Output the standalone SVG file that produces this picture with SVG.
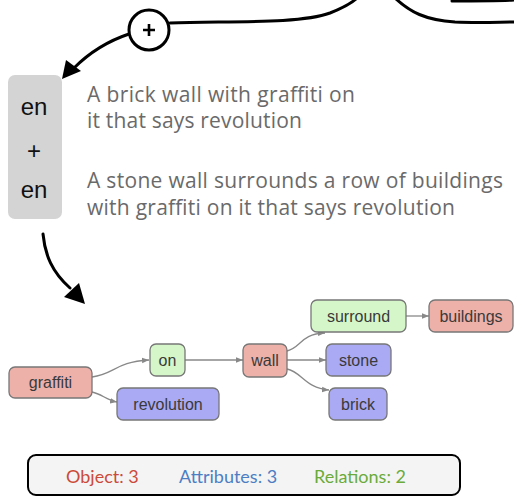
<svg xmlns="http://www.w3.org/2000/svg" width="514" height="497" viewBox="0 0 514 497">
<defs>
<style>
.thick{fill:none;stroke:#000;stroke-width:3;stroke-linecap:round}
.edge{fill:none;stroke:#888;stroke-width:1.3}
.node rect{stroke:#777;stroke-width:1.3}
.obj rect{fill:#eeb1aa}
.rel rect{fill:#d5f6c9}
.att rect{fill:#a9a9f4}
.node text{font-family:"Liberation Sans",Arial,sans-serif;font-size:16px;fill:#3a3a3a;text-anchor:middle}
.cap{font-family:"Open Sans","Liberation Sans",sans-serif;font-size:21px;fill:#6a6a6a}
.lang{font-family:"Liberation Sans",Arial,sans-serif;font-size:24px;fill:#111;text-anchor:middle}
.leg{font-family:"Lato","Open Sans",sans-serif;font-size:18px}
</style>
<marker id="ga" viewBox="0 0 10 10" refX="10" refY="5" markerWidth="7" markerHeight="7" markerUnits="userSpaceOnUse" orient="auto">
<path d="M0,1 L10,5 L0,9 z" fill="#888"/>
</marker>
</defs>

<g id="top-curves">
<path class="thick" d="M170,23 C230,21 300,24 330,13 C345,7 352,3 357,-2"/>
<path class="thick" d="M395,-2 C410,12 425,20 455,22 C480,23 500,22 516,22"/>
<path class="thick" d="M452,1 C480,1 500,1 516,0" stroke-width="2.5"/>
<path class="thick" d="M129,34 C105,42 88,54 74,68"/>
<path d="M62,79 L66,60 L81,71 z" fill="#000"/>
</g>

<g id="plus-circle">
<circle cx="149" cy="30" r="20" fill="#fff" stroke="#000" stroke-width="3"/>
<path d="M143,30 H155 M149,24 V36" stroke="#000" stroke-width="2.6" fill="none"/>
</g>

<g id="lang-box">
<rect x="8" y="75" width="54" height="144" rx="7" fill="#d4d4d4"/>
<text class="lang" x="34" y="115">en</text>
<text class="lang" x="34" y="159">+</text>
<text class="lang" x="34" y="198">en</text>
</g>

<g id="captions">
<text class="cap" x="87" y="102" textLength="268" lengthAdjust="spacing">A brick wall with graffiti on</text>
<text class="cap" x="87" y="128" textLength="215" lengthAdjust="spacing">it that says revolution</text>
<text class="cap" x="87" y="188" textLength="416" lengthAdjust="spacing">A stone wall surrounds a row of buildings</text>
<text class="cap" x="87" y="215" textLength="368" lengthAdjust="spacing">with graffiti on it that says revolution</text>
</g>

<g id="down-arrow">
<path class="thick" d="M43,234 C45,255 52,272 70,288" stroke-width="4"/>
<path d="M85,304 L64,297 L79,283 z" fill="#000"/>
</g>

<g id="connectors">
<path class="edge" d="M92,377 C115,374 115,362 149,360" marker-end="url(#ga)"/>
<path class="edge" d="M92,392 C102,394 106,400 117,402" marker-end="url(#ga)"/>
<path class="edge" d="M185,360 H243" marker-end="url(#ga)"/>
<path class="edge" d="M287,351 C302,347 300,334 325,333" marker-end="url(#ga)"/>
<path class="edge" d="M287,360 H326" marker-end="url(#ga)"/>
<path class="edge" d="M287,369 C302,372 305,388 329,390" marker-end="url(#ga)"/>
<path class="edge" d="M406,316 H429" marker-end="url(#ga)"/>
</g>

<g id="graffiti" class="node obj"><rect x="9" y="367" width="83" height="31" rx="6"/><text x="50.5" y="388">graffiti</text></g>
<g id="on" class="node rel"><rect x="150" y="344" width="35" height="32" rx="6"/><text x="167.5" y="366">on</text></g>
<g id="revolution" class="node att"><rect x="117" y="388" width="102" height="32" rx="6"/><text x="168" y="410">revolution</text></g>
<g id="wall" class="node obj"><rect x="243" y="344" width="44" height="33" rx="6"/><text x="265" y="366">wall</text></g>
<g id="surround" class="node rel"><rect x="311" y="300" width="95" height="32" rx="6"/><text x="358.5" y="322">surround</text></g>
<g id="buildings" class="node obj"><rect x="429" y="300" width="84" height="32" rx="6"/><text x="471" y="322">buildings</text></g>
<g id="stone" class="node att"><rect x="326" y="344" width="65" height="32" rx="6"/><text x="358.5" y="366">stone</text></g>
<g id="brick" class="node att"><rect x="329" y="388" width="58" height="32" rx="6"/><text x="358" y="410">brick</text></g>

<g id="legend">
<rect x="28" y="455" width="432" height="40" rx="8" fill="#f4f4f4" stroke="#000" stroke-width="2"/>
<text class="leg" x="66" y="483" fill="#cc4a3a">Object: 3</text>
<text class="leg" x="179" y="483" fill="#4d7ec4">Attributes: 3</text>
<text class="leg" x="314" y="483" fill="#6aab3a">Relations: 2</text>
</g>
</svg>
